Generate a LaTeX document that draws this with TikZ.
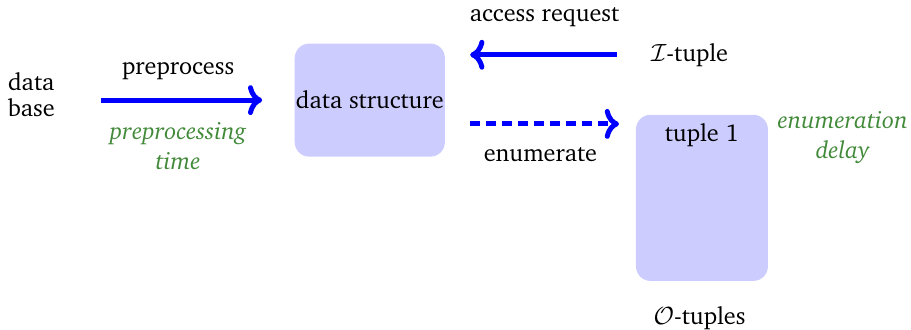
\documentclass[tikz,border=0pt]{standalone}
\usepackage[T1]{fontenc}
\usepackage{charter}
\usepackage{amsmath}
\usepackage{tikz}
\usepackage{xcolor}
\usetikzlibrary{arrows.meta, positioning, calc}

\definecolor{delaygreen}{RGB}{66,138,58}

\tikzset{
    store/.style={fill=blue!20, rounded corners=7pt, inner sep=0pt},
    flow/.style={->, blue, line width=2.4pt},
    cost/.style={delaygreen, font=\fontsize{11.7}{14.5}\selectfont\itshape, align=center},
}

\begin{document}
\begin{tikzpicture}[font=\fontsize{11.7}{12.6}\selectfont]
    \useasboundingbox (0,0) rectangle (15.47,-5.60);

    % Input and the structure built from it
    \node[align=center] (db) at (0.53,-1.61) {data\\base};
    \node[store, minimum width=2.55cm, minimum height=1.92cm] (ds) at (6.28,-1.70) {data structure};

    % Access side
    \node (itup) at (11.71,-0.93) {$\mathcal{I}$-tuple};

    % Output tuples
    \node[store, minimum width=2.24cm, minimum height=2.82cm] (tup) at (11.92,-3.36) {};
    \node[below=4pt of tup.north, inner sep=0pt] (t1) {tuple 1};
    \node (otup) at (11.88,-5.40) {$\mathcal{O}$-tuples};
    \node[cost] (delay) at (14.31,-2.33) {enumeration\\delay};

    % Preprocessing step
    \draw[flow, shorten <=19pt, shorten >=15.5pt] (db.east |- ds.west) -- (ds.west)
        node[midway, yshift=14pt, black] (pre) {preprocess}
        node[midway, yshift=-22pt, cost] (pretime) {preprocessing\\time};

    % Requests go back to the structure
    \draw[flow, shorten <=13pt, shorten >=12pt] (itup.west) -- (itup.west -| ds.east)
        node[midway, yshift=18.3pt, black] (req) {access request};

    % Enumeration phase
    \draw[flow, dash pattern=on 4.8pt off 2.9pt, shorten <=12pt, shorten >=8pt]
        ([yshift=-11.5pt]ds.east) -- ([yshift=-11.5pt]ds.east -| tup.west)
        node[midway, yshift=-15pt, black] (enum) {enumerate};
\end{tikzpicture}
\end{document}
